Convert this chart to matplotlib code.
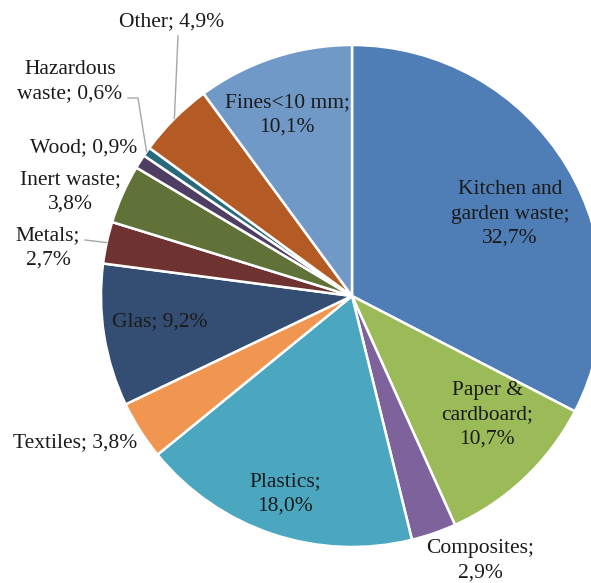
# Pie chart: composition of residual waste
import numpy as np
import matplotlib.pyplot as plt

plt.rcParams['font.family'] = ['Liberation Serif', 'DejaVu Serif']

categories = ['Kitchen and\ngarden waste', 'Paper &\ncardboard', 'Composites', 'Plastics',
              'Textiles', 'Glas', 'Metals', 'Inert waste', 'Wood', 'Hazardous\nwaste',
              'Other', 'Fines<10 mm']
values = [32.7, 10.7, 2.9, 18.0, 3.8, 9.2, 2.7, 3.8, 0.9, 0.6, 4.9, 10.1]
label_texts = ['Kitchen and\ngarden waste;\n32,7%', 'Paper &\ncardboard;\n10,7%',
               'Composites;\n2,9%', 'Plastics;\n18,0%', 'Textiles; 3,8%', 'Glas; 9,2%',
               'Metals;\n2,7%', 'Inert waste;\n3,8%', 'Wood; 0,9%', 'Hazardous\nwaste; 0,6%',
               'Other; 4,9%', 'Fines<10 mm;\n10,1%']
colors = ['#4F7EB7', '#9BBB59', '#7D629C', '#4BA7C0', '#F09650', '#344D72',
          '#6E3230', '#617239', '#4E3E63', '#276A7C', '#B35A25', '#7199C8']

W, H = 591, 583
cx, cy, R = 352, H - 296, 251

# label positions (pixel coords from top-left)
label_pos = [(510, 214), (487, 415), (480, 561), (285, 494), (75, 443), (160, 322),
             (48, 248), (70, 192), (84, 148), (70, 82), (172, 22), (287, 115)]
# leader lines: index -> elbow point of the line near the label
leaders = {10: [(178, 36)], 9: [(128, 98), (138, 98)], 6: [(85, 240)]}

fig = plt.figure(figsize=(W / 100, H / 100), dpi=100)
ax = fig.add_axes([0, 0, 1, 1])
wedges, _ = ax.pie(values, colors=colors, startangle=90, counterclock=False,
                   center=(cx, cy), radius=R,
                   wedgeprops=dict(edgecolor='white', linewidth=1.8))
ax.set_xlim(0, W)
ax.set_ylim(0, H)
ax.axis('off')

for i, txt in enumerate(label_texts):
    x, y = label_pos[i]
    ax.text(x, H - y, txt, ha='center', va='center', fontsize=15.5,
            color='#1a1a1a', linespacing=1.38)

for i, pts in leaders.items():
    w = wedges[i]
    mid = np.deg2rad((w.theta1 + w.theta2) / 2)
    ax_x = cx + R * np.cos(mid)
    ax_y = cy + R * np.sin(mid)
    xs = [p[0] for p in pts] + [ax_x]
    ys = [H - p[1] for p in pts] + [ax_y]
    ax.plot(xs, ys, color='#A6A6A6', linewidth=1.0)

fig.savefig('out.png', dpi=100)
